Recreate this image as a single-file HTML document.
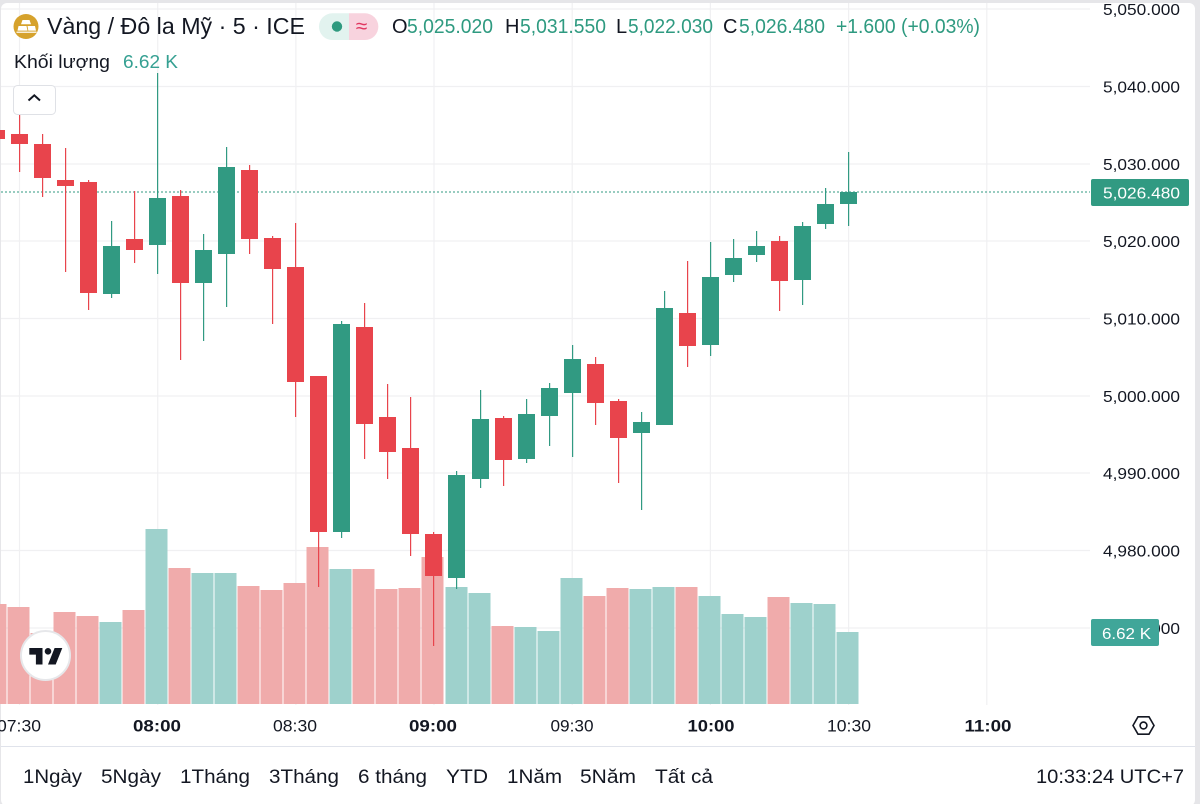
<!DOCTYPE html>
<html><head><meta charset="utf-8">
<style>
html,body{margin:0;padding:0;background:#e9e9ec;}
body{width:1200px;height:804px;overflow:hidden;}
svg{display:block;font-family:"Liberation Sans",Arial,sans-serif;}
</style></head>
<body>
<svg width="1200" height="804" viewBox="0 0 1200 804" xmlns="http://www.w3.org/2000/svg">
<rect x="0" y="0" width="1200" height="804" fill="#e6e6e9"/>
<rect x="1" y="3" width="1194" height="803" rx="6" fill="#ffffff"/>

<!-- grid -->
<g stroke="#f0f0f2" stroke-width="1.2">
<line x1="1" y1="9" x2="1090" y2="9"/>
<line x1="1" y1="86.5" x2="1090" y2="86.5"/>
<line x1="1" y1="164" x2="1090" y2="164"/>
<line x1="1" y1="241" x2="1090" y2="241"/>
<line x1="1" y1="318.5" x2="1090" y2="318.5"/>
<line x1="1" y1="396" x2="1090" y2="396"/>
<line x1="1" y1="473" x2="1090" y2="473"/>
<line x1="1" y1="550.5" x2="1090" y2="550.5"/>
<line x1="1" y1="628" x2="1090" y2="628"/>
<line x1="19.5" y1="3" x2="19.5" y2="705"/>
<line x1="157.7" y1="3" x2="157.7" y2="705"/>
<line x1="295.9" y1="3" x2="295.9" y2="705"/>
<line x1="434" y1="3" x2="434" y2="705"/>
<line x1="572.2" y1="3" x2="572.2" y2="705"/>
<line x1="710.4" y1="3" x2="710.4" y2="705"/>
<line x1="848.6" y1="3" x2="848.6" y2="705"/>
<line x1="986.8" y1="3" x2="986.8" y2="705"/>
</g>

<!-- volume bars -->
<g>
<rect x="-15.5" y="604" width="22" height="100" fill="#f0abab"/>
<rect x="7.5" y="607" width="22" height="97" fill="#f0abab"/>
<rect x="30.5" y="633" width="22" height="71" fill="#f0abab"/>
<rect x="53.5" y="612" width="22" height="92" fill="#f0abab"/>
<rect x="76.5" y="616" width="22" height="88" fill="#f0abab"/>
<rect x="99.5" y="622" width="22" height="82" fill="#9ed1cc"/>
<rect x="122.5" y="610" width="22" height="94" fill="#f0abab"/>
<rect x="145.5" y="529" width="22" height="175" fill="#9ed1cc"/>
<rect x="168.5" y="568" width="22" height="136" fill="#f0abab"/>
<rect x="191.5" y="573" width="22" height="131" fill="#9ed1cc"/>
<rect x="214.5" y="573" width="22" height="131" fill="#9ed1cc"/>
<rect x="237.5" y="586" width="22" height="118" fill="#f0abab"/>
<rect x="260.5" y="590" width="22" height="114" fill="#f0abab"/>
<rect x="283.5" y="583" width="22" height="121" fill="#f0abab"/>
<rect x="306.5" y="547" width="22" height="157" fill="#f0abab"/>
<rect x="329.5" y="569" width="22" height="135" fill="#9ed1cc"/>
<rect x="352.5" y="569" width="22" height="135" fill="#f0abab"/>
<rect x="375.5" y="589" width="22" height="115" fill="#f0abab"/>
<rect x="398.5" y="588" width="22" height="116" fill="#f0abab"/>
<rect x="421.5" y="557" width="22" height="147" fill="#f0abab"/>
<rect x="445.5" y="587" width="22" height="117" fill="#9ed1cc"/>
<rect x="468.5" y="593" width="22" height="111" fill="#9ed1cc"/>
<rect x="491.5" y="626" width="22" height="78" fill="#f0abab"/>
<rect x="514.5" y="627" width="22" height="77" fill="#9ed1cc"/>
<rect x="537.5" y="631" width="22" height="73" fill="#9ed1cc"/>
<rect x="560.5" y="578" width="22" height="126" fill="#9ed1cc"/>
<rect x="583.5" y="596" width="22" height="108" fill="#f0abab"/>
<rect x="606.5" y="588" width="22" height="116" fill="#f0abab"/>
<rect x="629.5" y="589" width="22" height="115" fill="#9ed1cc"/>
<rect x="652.5" y="587" width="22" height="117" fill="#9ed1cc"/>
<rect x="675.5" y="587" width="22" height="117" fill="#f0abab"/>
<rect x="698.5" y="596" width="22" height="108" fill="#9ed1cc"/>
<rect x="721.5" y="614" width="22" height="90" fill="#9ed1cc"/>
<rect x="744.5" y="617" width="22" height="87" fill="#9ed1cc"/>
<rect x="767.5" y="597" width="22" height="107" fill="#f0abab"/>
<rect x="790.5" y="603" width="22" height="101" fill="#9ed1cc"/>
<rect x="813.5" y="604" width="22" height="100" fill="#9ed1cc"/>
<rect x="836.5" y="632" width="22" height="72" fill="#9ed1cc"/>
</g>

<!-- last price dotted line -->
<line x1="1" y1="192" x2="1090" y2="192" stroke="#319a82" stroke-width="1" stroke-dasharray="2 2"/>

<!-- candles -->
<g fill="#e8444c">
<rect x="-12" y="130" width="17" height="9"/>
<rect x="19" y="103" width="1.2" height="69"/><rect x="11" y="134" width="17" height="10"/>
<rect x="42" y="134" width="1.2" height="63"/><rect x="34" y="144" width="17" height="34"/>
<rect x="65" y="148" width="1.2" height="124"/><rect x="57" y="180" width="17" height="6"/>
<rect x="88" y="180" width="1.2" height="130"/><rect x="80" y="182" width="17" height="111"/>
<rect x="134" y="191" width="1.2" height="72"/><rect x="126" y="239" width="17" height="11"/>
<rect x="180" y="190" width="1.2" height="170"/><rect x="172" y="196" width="17" height="87"/>
<rect x="249" y="165" width="1.2" height="89"/><rect x="241" y="170" width="17" height="69"/>
<rect x="272" y="236" width="1.2" height="88"/><rect x="264" y="238" width="17" height="31"/>
<rect x="295" y="223" width="1.2" height="194"/><rect x="287" y="267" width="17" height="115"/>
<rect x="318" y="376" width="1.2" height="211"/><rect x="310" y="376" width="17" height="156"/>
<rect x="364" y="303" width="1.2" height="156"/><rect x="356" y="327" width="17" height="97"/>
<rect x="387" y="384" width="1.2" height="95"/><rect x="379" y="417" width="17" height="35"/>
<rect x="410" y="397" width="1.2" height="159"/><rect x="402" y="448" width="17" height="86"/>
<rect x="433" y="532" width="1.2" height="114"/><rect x="425" y="534" width="17" height="42"/>
<rect x="503" y="416" width="1.2" height="70"/><rect x="495" y="418" width="17" height="42"/>
<rect x="595" y="357" width="1.2" height="68"/><rect x="587" y="364" width="17" height="39"/>
<rect x="618" y="399" width="1.2" height="84"/><rect x="610" y="401" width="17" height="37"/>
<rect x="687" y="261" width="1.2" height="106"/><rect x="679" y="313" width="17" height="33"/>
<rect x="779" y="236" width="1.2" height="75"/><rect x="771" y="241" width="17" height="40"/>
</g>
<g fill="#319a82">
<rect x="111" y="221" width="1.2" height="77"/><rect x="103" y="246" width="17" height="48"/>
<rect x="157" y="73" width="1.2" height="201"/><rect x="149" y="198" width="17" height="47"/>
<rect x="203" y="234" width="1.2" height="107"/><rect x="195" y="250" width="17" height="33"/>
<rect x="226" y="147" width="1.2" height="160"/><rect x="218" y="167" width="17" height="87"/>
<rect x="341" y="321" width="1.2" height="217"/><rect x="333" y="324" width="17" height="208"/>
<rect x="456" y="471" width="1.2" height="118"/><rect x="448" y="475" width="17" height="103"/>
<rect x="480" y="390" width="1.2" height="98"/><rect x="472" y="419" width="17" height="60"/>
<rect x="526" y="399" width="1.2" height="64"/><rect x="518" y="414" width="17" height="45"/>
<rect x="549" y="383" width="1.2" height="63"/><rect x="541" y="388" width="17" height="28"/>
<rect x="572" y="345" width="1.2" height="112"/><rect x="564" y="359" width="17" height="34"/>
<rect x="641" y="412" width="1.2" height="98"/><rect x="633" y="422" width="17" height="11"/>
<rect x="664" y="291" width="1.2" height="134"/><rect x="656" y="308" width="17" height="117"/>
<rect x="710" y="242" width="1.2" height="114"/><rect x="702" y="277" width="17" height="68"/>
<rect x="733" y="239" width="1.2" height="43"/><rect x="725" y="258" width="17" height="17"/>
<rect x="756" y="231" width="1.2" height="31"/><rect x="748" y="246" width="17" height="9"/>
<rect x="802" y="222" width="1.2" height="83"/><rect x="794" y="226" width="17" height="54"/>
<rect x="825" y="188" width="1.2" height="41"/><rect x="817" y="204" width="17" height="20"/>
<rect x="848" y="152" width="1.2" height="74"/><rect x="840" y="192" width="17" height="12"/>
</g>

<!-- header -->
<circle cx="26" cy="26.5" r="12.5" fill="#d6a22c"/>
<g fill="#ffffff">
<polygon points="22.5,20 29.5,20 31,24.3 21,24.3"/>
<polygon points="18.5,26 26.5,26 27.5,30.6 17.5,30.6"/>
<polygon points="27.5,26 35,26 36,30.6 28.3,30.6"/>
<rect x="16.5" y="31.6" width="20" height="1.2"/>
</g>
<text x="47" y="34" font-size="23" fill="#131722" textLength="258" lengthAdjust="spacingAndGlyphs">Vàng / Đô la Mỹ · 5 · ICE</text>

<path d="M332.3 13.3 H349 V40 H332.3 A13.35 13.35 0 0 1 332.3 13.3 Z" fill="#e2f3ef"/>
<path d="M349 13.3 H365 A13.35 13.35 0 0 1 365 40 H349 Z" fill="#f8d3de"/>
<circle cx="337" cy="26.5" r="5.2" fill="#2e9a7f"/>
<text x="361.5" y="33" font-size="21" fill="#e0365f" text-anchor="middle">≈</text>

<g font-size="20">
<text x="392" y="33" fill="#131722">O</text>
<text x="407" y="33" fill="#2e9a80" textLength="86" lengthAdjust="spacingAndGlyphs">5,025.020</text>
<text x="505" y="33" fill="#131722">H</text>
<text x="520" y="33" fill="#2e9a80" textLength="86" lengthAdjust="spacingAndGlyphs">5,031.550</text>
<text x="616" y="33" fill="#131722">L</text>
<text x="628" y="33" fill="#2e9a80" textLength="85" lengthAdjust="spacingAndGlyphs">5,022.030</text>
<text x="723" y="33" fill="#131722">C</text>
<text x="739" y="33" fill="#2e9a80" textLength="86" lengthAdjust="spacingAndGlyphs">5,026.480</text>
<text x="836" y="33" fill="#2e9a80" textLength="144" lengthAdjust="spacingAndGlyphs">+1.600 (+0.03%)</text>
</g>

<text x="14" y="68" font-size="18" fill="#131722" textLength="96" lengthAdjust="spacingAndGlyphs">Khối lượng</text>
<text x="123" y="68" font-size="18" fill="#35a092" textLength="55" lengthAdjust="spacingAndGlyphs">6.62 K</text>

<rect x="13.5" y="85.5" width="42" height="29" rx="4" fill="#ffffff" stroke="#dfe1e6" stroke-width="1"/>
<polyline points="28.5,100.5 34.3,95.3 40,100.5" fill="none" stroke="#131722" stroke-width="2"/>

<!-- TV logo -->
<circle cx="45.5" cy="655.5" r="24.5" fill="#ffffff" stroke="#e6e7ea" stroke-width="2"/>
<g transform="translate(27.1,641.4) scale(1.1)" fill="#131722">
<path d="M14 6H2v6h6v9h6V6Zm12 15h-7l6-15h7l-6 15Zm-7-9a3 3 0 1 0 0-6 3 3 0 0 0 0 6Z"/>
</g>

<!-- price axis -->
<g font-size="16" fill="#131722">
<text x="1103" y="15" textLength="77" lengthAdjust="spacingAndGlyphs">5,050.000</text>
<text x="1103" y="92.5" textLength="77" lengthAdjust="spacingAndGlyphs">5,040.000</text>
<text x="1103" y="170" textLength="77" lengthAdjust="spacingAndGlyphs">5,030.000</text>
<text x="1103" y="247" textLength="77" lengthAdjust="spacingAndGlyphs">5,020.000</text>
<text x="1103" y="324.5" textLength="77" lengthAdjust="spacingAndGlyphs">5,010.000</text>
<text x="1103" y="402" textLength="77" lengthAdjust="spacingAndGlyphs">5,000.000</text>
<text x="1103" y="479" textLength="77" lengthAdjust="spacingAndGlyphs">4,990.000</text>
<text x="1103" y="556.5" textLength="77" lengthAdjust="spacingAndGlyphs">4,980.000</text>
<text x="1103" y="634" textLength="77" lengthAdjust="spacingAndGlyphs">4,970.000</text>
</g>
<rect x="1091" y="179" width="98" height="27" rx="2" fill="#319a82"/>
<text x="1103" y="198.5" font-size="16" fill="#ffffff" textLength="77" lengthAdjust="spacingAndGlyphs">5,026.480</text>
<rect x="1091" y="619" width="68" height="27" rx="2" fill="#40a699"/>
<text x="1102" y="639" font-size="16" fill="#ffffff" textLength="49" lengthAdjust="spacingAndGlyphs">6.62 K</text>

<!-- time axis -->
<g font-size="17" fill="#131722" text-anchor="middle">
<text x="19" y="731.5" textLength="44" lengthAdjust="spacingAndGlyphs">07:30</text>
<text x="157" y="731.5" font-weight="bold" textLength="48" lengthAdjust="spacingAndGlyphs">08:00</text>
<text x="295" y="731.5" textLength="44" lengthAdjust="spacingAndGlyphs">08:30</text>
<text x="433" y="731.5" font-weight="bold" textLength="48" lengthAdjust="spacingAndGlyphs">09:00</text>
<text x="572" y="731.5" textLength="43" lengthAdjust="spacingAndGlyphs">09:30</text>
<text x="711" y="731.5" font-weight="bold" textLength="47" lengthAdjust="spacingAndGlyphs">10:00</text>
<text x="849" y="731.5" textLength="44" lengthAdjust="spacingAndGlyphs">10:30</text>
<text x="988" y="731.5" font-weight="bold" textLength="47" lengthAdjust="spacingAndGlyphs">11:00</text>
</g>
<polygon points="1133,725.5 1138,716.8 1149,716.8 1154,725.5 1149,734.2 1138,734.2" fill="none" stroke="#131722" stroke-width="1.6"/>
<circle cx="1143.5" cy="725.5" r="3.4" fill="none" stroke="#131722" stroke-width="1.6"/>

<line x1="1" y1="746.5" x2="1195" y2="746.5" stroke="#e0e3eb" stroke-width="1"/>

<!-- range bar -->
<g font-size="19" fill="#131722">
<text x="23" y="783" textLength="59" lengthAdjust="spacingAndGlyphs">1Ngày</text>
<text x="101" y="783" textLength="60" lengthAdjust="spacingAndGlyphs">5Ngày</text>
<text x="180" y="783" textLength="70" lengthAdjust="spacingAndGlyphs">1Tháng</text>
<text x="269" y="783" textLength="70" lengthAdjust="spacingAndGlyphs">3Tháng</text>
<text x="358" y="783" textLength="69" lengthAdjust="spacingAndGlyphs">6 tháng</text>
<text x="446" y="783" textLength="42" lengthAdjust="spacingAndGlyphs">YTD</text>
<text x="507" y="783" textLength="55" lengthAdjust="spacingAndGlyphs">1Năm</text>
<text x="580" y="783" textLength="56" lengthAdjust="spacingAndGlyphs">5Năm</text>
<text x="655" y="783" textLength="58" lengthAdjust="spacingAndGlyphs">Tất cả</text>
<text x="1036" y="783" textLength="148" lengthAdjust="spacingAndGlyphs">10:33:24 UTC+7</text>
</g>
</svg>
</body></html>
